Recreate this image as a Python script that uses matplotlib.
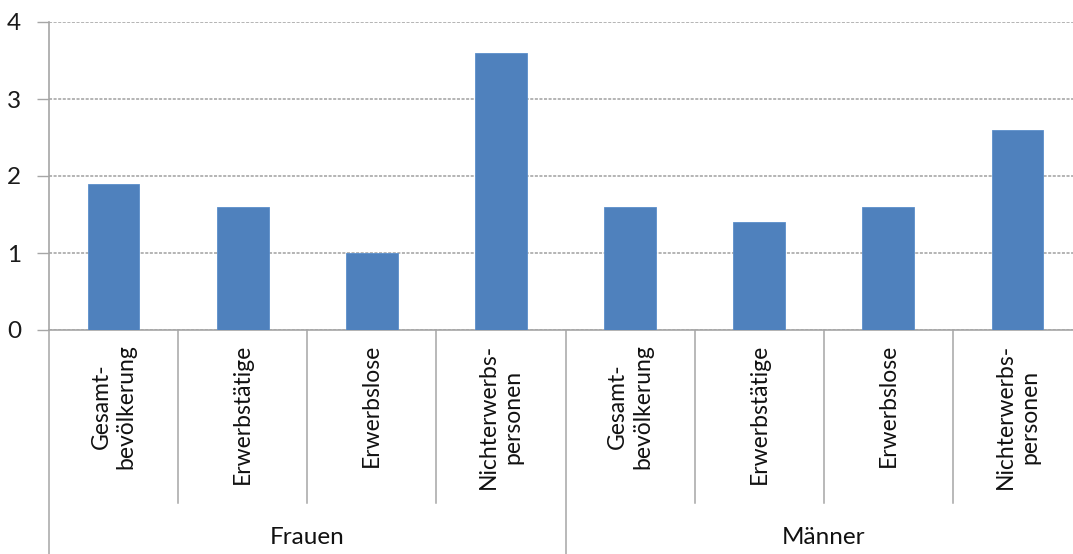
import matplotlib
matplotlib.use("Agg")
import matplotlib.pyplot as plt

categories = ["Gesamt-\nbevölkerung", "Erwerbstätige", "Erwerbslose", "Nichterwerbs-\npersonen",
              "Gesamt-\nbevölkerung", "Erwerbstätige", "Erwerbslose", "Nichterwerbs-\npersonen"]
groups = ["Frauen", "Männer"]
values = [1.9, 1.6, 1.0, 3.6, 1.6, 1.4, 1.6, 2.6]
yticks = [0, 1, 2, 3, 4]

W, H = 1073, 554
fig = plt.figure(figsize=(W / 100, H / 100), dpi=100)
left, right, top, bottom = 49, 1082, 22, 330
ax = fig.add_axes([left / W, 1 - bottom / H, (right - left) / W, (bottom - top) / H])

font = ["Lato", "DejaVu Sans"]
gray = "#A6A6A6"
n = len(values)
xs = [i + 0.5 for i in range(n)]
ax.bar(xs, values, width=0.4, color="#4F81BD", edgecolor="#5B8FCB", linewidth=0.6, zorder=3)

ax.set_xlim(0, n)
ax.set_ylim(0, 4)
ax.set_yticks(yticks)
ax.set_yticklabels([str(t) for t in yticks], fontsize=17.5, family=font, color="#1a1a1a")
ax.tick_params(axis="y", length=9, width=1, color=gray, pad=11)
ax.set_xticks([])
for s in ["top", "right"]:
    ax.spines[s].set_visible(False)
for s in ["left", "bottom"]:
    ax.spines[s].set_color(gray)
    ax.spines[s].set_linewidth(1.2)
ax.yaxis.grid(True, linestyle=(0, (2.0, 1.0)), color="#A0A0A0", linewidth=1.1, zorder=0)
ax.set_axisbelow(True)

ah = bottom - top
small_end = -(503 - bottom) / ah
big_end = -(H + 5 - bottom) / ah
for i in range(n + 1):
    end = big_end if i % 4 == 0 else small_end
    ax.plot([i, i], [0, end], color=gray, linewidth=1.1, clip_on=False,
            transform=ax.get_xaxis_transform())

label_top = -(344 - bottom) / ah
for x, lab in zip(xs, categories):
    ax.text(x, label_top, lab, rotation=90, ha="center", va="top", multialignment="center",
            fontsize=16.5, family=font, color="#111111", transform=ax.get_xaxis_transform(),
            linespacing=1.22)

group_y = -(537 - bottom) / ah
for g, name in enumerate(groups):
    ax.text(g * 4 + 2, group_y, name, ha="center", va="center", fontsize=17.5, family=font,
            color="#111111", transform=ax.get_xaxis_transform())

fig.savefig("out.png", dpi=100, facecolor="white")
